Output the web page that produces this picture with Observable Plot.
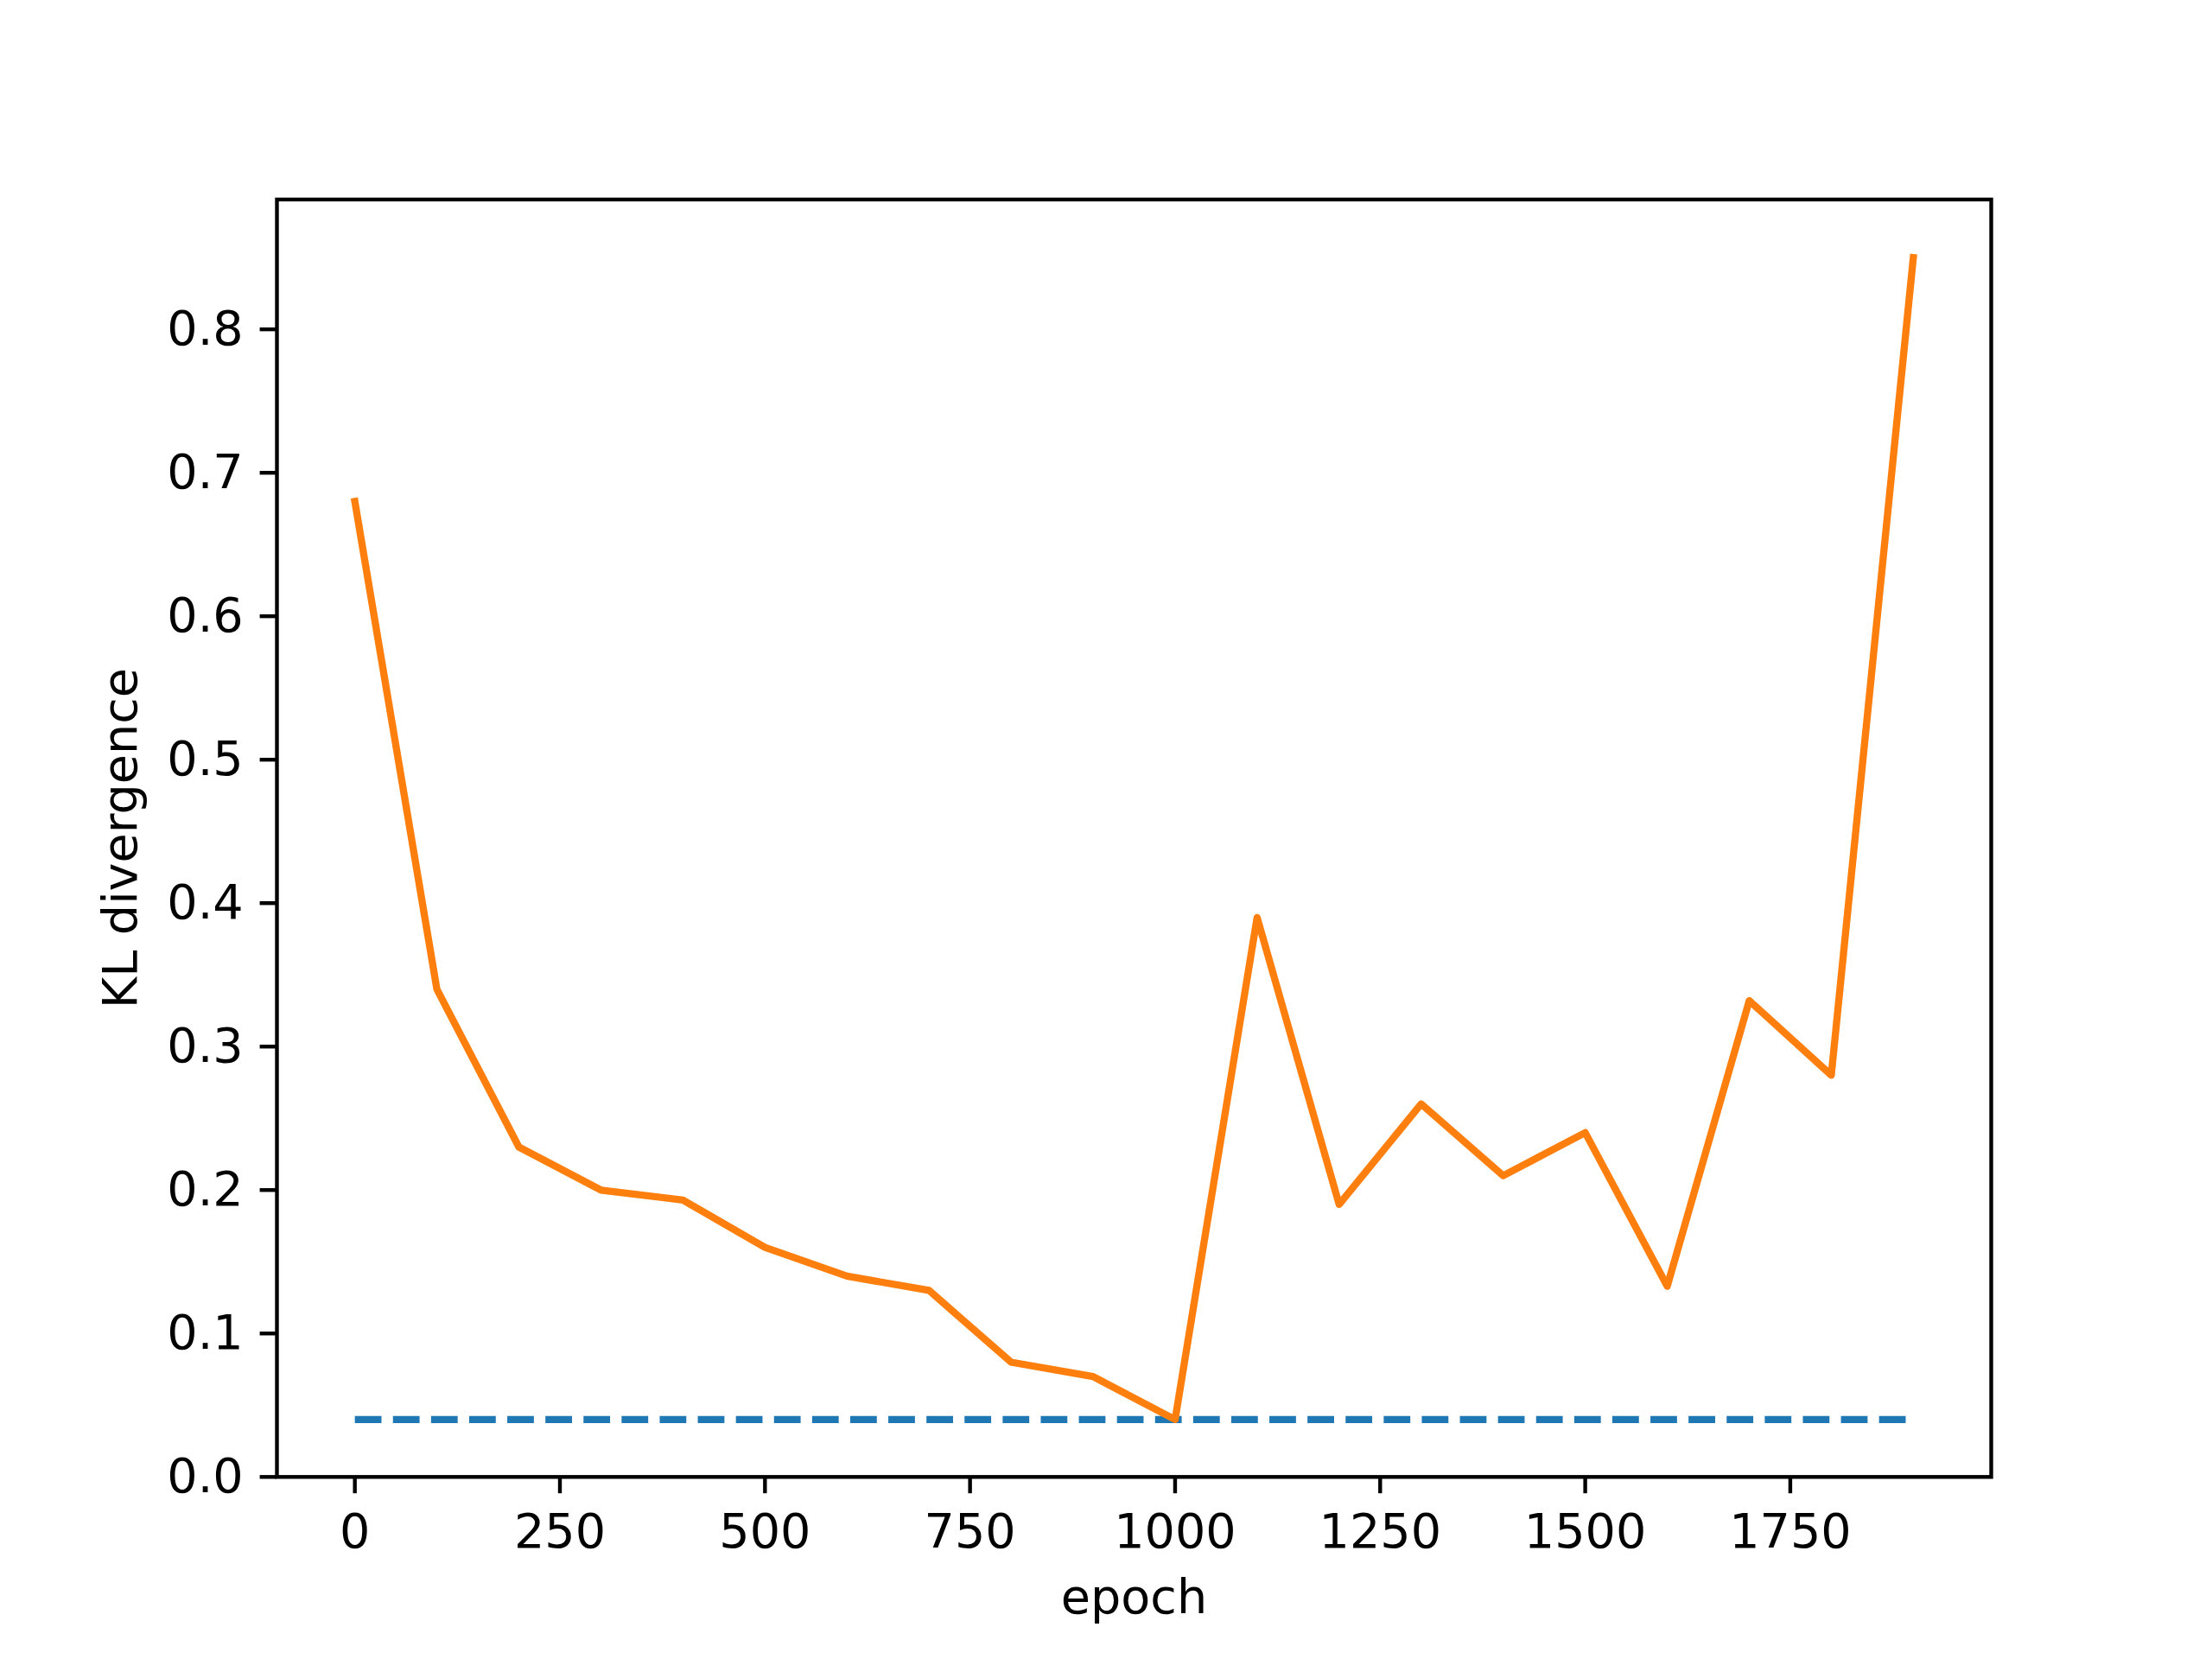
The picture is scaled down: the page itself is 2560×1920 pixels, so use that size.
<!DOCTYPE html>
<html><head><meta charset="utf-8">
<script src="https://cdn.jsdelivr.net/npm/d3@7"></script>
<script src="https://cdn.jsdelivr.net/npm/@observablehq/plot@0.6"></script>
<style>html,body{margin:0;padding:0;background:#fff;}</style>
</head><body><div id="chart"></div>
<script>
const epochs = [0, 100, 200, 300, 400, 500, 600, 700, 800, 900, 1000, 1100, 1200, 1300, 1400, 1500, 1600, 1700, 1800, 1900];
const klValues = [0.68, 0.34, 0.23, 0.20, 0.193, 0.16, 0.14, 0.13, 0.08, 0.07, 0.04, 0.39, 0.19, 0.26, 0.21, 0.24, 0.133, 0.332, 0.28, 0.85];
const baselineEpochs = [0, 1900];
const baselineValue = 0.04;
const xTicks = [0, 250, 500, 750, 1000, 1250, 1500, 1750];
const yTicks = [0, 0.1, 0.2, 0.3, 0.4, 0.5, 0.6, 0.7, 0.8];
const xLabel = "epoch";
const yLabel = "KL divergence";

const klData = epochs.map((e, i) => ({epoch: e, kl: klValues[i]}));
const baseData = baselineEpochs.map(e => ({epoch: e, kl: baselineValue}));

const chart = Plot.plot({
  width: 2560, height: 1920,
  marginLeft: 320, marginRight: 256, marginTop: 230.4, marginBottom: 211.2,
  style: {fontFamily: "'DejaVu Sans'", fontSize: "55.6px", background: "#fff", color: "#000"},
  x: {domain: [-95, 1995]},
  y: {domain: [0, 0.8905]},
  marks: [
    Plot.line(baseData, {x: "epoch", y: "kl", stroke: "#1f77b4", strokeWidth: 8.33, strokeDasharray: "30.8,13.3", strokeLinecap: "butt"}),
    Plot.line(klData, {x: "epoch", y: "kl", stroke: "#ff7f0e", strokeWidth: 8.33, strokeLinejoin: "round", strokeLinecap: "square"}),
    Plot.frame({stroke: "black", strokeWidth: 4.4}),
    Plot.axisX(xTicks, {tickSize: 19.4, tickPadding: 23, strokeWidth: 4.4, fontSize: 55.6, label: null, tickFormat: d => String(d)}),
    Plot.axisY(yTicks, {tickSize: 19.4, tickPadding: 19.4, strokeWidth: 4.4, fontSize: 55.6, label: null, tickFormat: d => d.toFixed(1)}),
    Plot.text([xLabel], {frameAnchor: "bottom", dy: 140, textAnchor: "middle", lineAnchor: "middle", fontSize: 55.6, fill: "black"}),
    Plot.text([yLabel], {frameAnchor: "left", dx: -180, rotate: -90, textAnchor: "middle", lineAnchor: "middle", fontSize: 55.6, fill: "black"})
  ]
});
document.getElementById("chart").appendChild(chart);
</script>
</body></html>
